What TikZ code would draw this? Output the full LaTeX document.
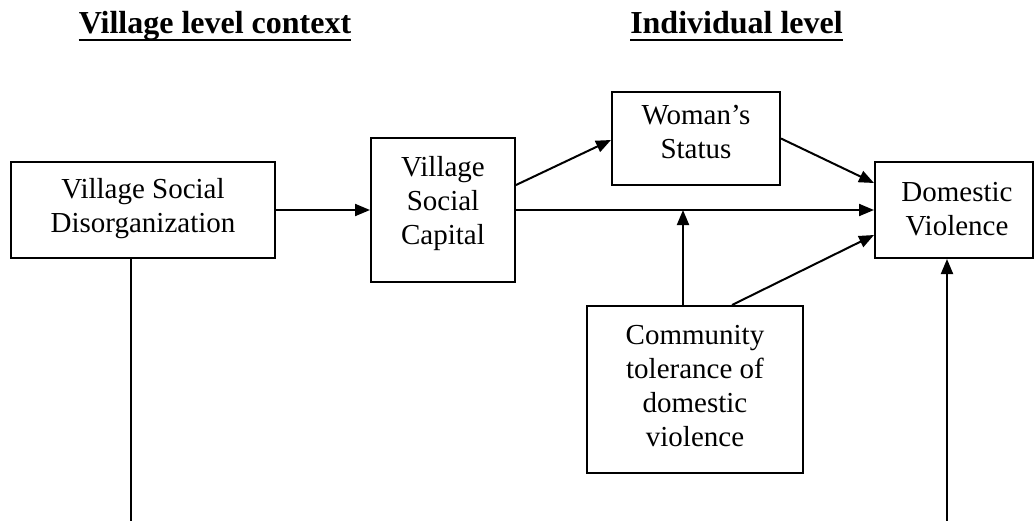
\documentclass[tikz,border=0pt]{standalone}
\usepackage{fontspec}
\setmainfont{Liberation Serif}
\usetikzlibrary{arrows.meta}
\tikzset{
  box/.style={draw, line width=2pt, inner sep=0pt},
  txt/.style={anchor=north, align=center, inner sep=0pt, font=\fontsize{29}{34}\selectfont},
  ttl/.style={anchor=base, inner sep=0pt, font=\fontsize{32}{38}\selectfont\bfseries},
  conn/.style={line width=2pt},
  arr/.style={line width=2pt, -{Triangle[length=15pt,width=12pt]}},
  uline/.style={line width=2.6pt}
}
\begin{document}
\begin{tikzpicture}[x=1pt,y=-1pt]
\useasboundingbox (0,0) rectangle (1034,520);
\clip (0,0) rectangle (1034,520);
% titles
\node[ttl] (t1) at (215,33) {Village level context};
\node[ttl] (t2) at (736.5,33) {Individual level};
\draw[uline] ([yshift=-7pt]t1.base west) -- ([yshift=-7pt]t1.base east);
\draw[uline] ([yshift=-7pt]t2.base west) -- ([yshift=-7pt]t2.base east);
% boxes
\node[box, minimum width=264pt, minimum height=96pt] (vsd) at (143,210) {};
\node[box, minimum width=144pt, minimum height=144pt] (vsc) at (443,210) {};
\node[box, minimum width=168pt, minimum height=93pt] (ws) at (696,138.5) {};
\node[box, minimum width=158pt, minimum height=96pt] (dv) at (954,210) {};
\node[box, minimum width=216pt, minimum height=167pt] (ct) at (695,389.5) {};
% texts
\node[txt] (vsdt) at (143,178.5) {Village Social\\Disorganization};
\node[txt] (vsct) at (443,156) {Village\\Social\\Capital};
\node[txt] (wst) at (696,105) {Woman’s\\Status};
\node[txt] (dvt) at (957,182) {Domestic\\Violence};
\node[txt] (ctt) at (695,325) {Community\\tolerance of\\domestic\\violence};
% connectors
\draw[arr] (vsd.east) -- (vsc.west);
\draw[arr] ([yshift=25pt]vsc.east) -- ([yshift=-1.5pt]ws.west);
\draw[arr] (vsc.east) -- (dv.west);
\draw[arr] (ws.east) -- ([yshift=27pt]dv.west);
\draw[arr] ([xshift=37pt]ct.north) -- ([yshift=-25pt]dv.west);
\draw[arr] ([xshift=-12pt]ct.north) -- ([xshift=-12pt]ct.north |- vsc.east);
\coordinate (b1) at (131,522);
\coordinate (b2) at (947,522);
\draw[conn] (vsd.south -| b1) -- (b1);
\draw[arr] (b2) -- (b2 |- dv.south);
\end{tikzpicture}
\end{document}
